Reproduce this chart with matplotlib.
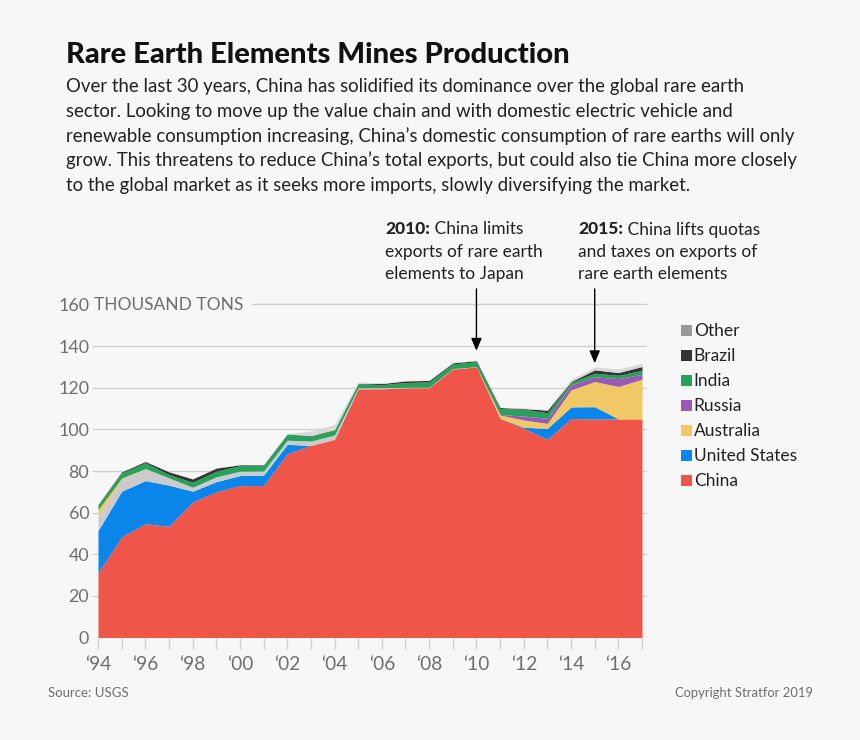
import matplotlib
matplotlib.use("Agg")
import matplotlib.pyplot as plt
from matplotlib.patches import Patch
from matplotlib.transforms import blended_transform_factory

years = list(range(1994, 2018))
# cumulative tops
china = [31,48.3,54.7,53.4,65.1,70,73,73,88.3,92.3,95.2,119.5,119.5,120,120,129,130,105.3,100.5,95.2,105.2,105,105,105]
us_top = [51.3,70.3,75.4,73.2,70.3,74.9,77.8,78,92.8,92.3,95.2,119.5,119.5,120,120,129,130,105.3,101,100.5,110.8,110.9,105,105]
gray_top = [58,76.2,81.2,76.7,72.2,77.2,79.9,80,94.8,94.4,97.3,120,120,120.2,120.2,129.2,130.1,105.4,101,100.5,110.8,110.9,105,105]
australia_top = [61.4,76.6,81.2,76.7,72.2,77.2,79.9,80,94.8,94.4,97.3,120,120,120.2,120.2,129.2,130.1,106.9,104.5,102.9,119,123,120.6,124.1]
russia_top = [61.4,76.6,81.2,76.7,72.2,77.2,79.9,80,94.8,94.4,97.3,120,120,120.2,120.2,129.2,130.1,107.2,106.4,105.3,121.4,125.2,124.4,126.5]
india_top = [63.8,79.1,84,78.3,74.6,79.9,82.6,82.7,97.6,96.8,99.7,122,121.5,122.5,122.8,131.5,132.5,110,109.7,108,122.6,127,126,128.4]
brazil_top = [63.9,79.6,84.6,79.6,76.2,81.4,83,83,97.8,97,99.9,122.2,122,123.3,123.5,132,133,110.5,110,109.2,123,128.6,127.3,130.2]
other_top = [64,79.8,84.8,79.8,76.4,81.6,83.1,83.2,98,99.2,102.4,122.8,122.4,123.6,123.7,132.2,133.1,110.7,110.3,109.6,124,130,129,131.8]

bands = [
    (None, china, "China", "#EF5548"),
    (china, us_top, "United States", "#0A85EA"),
    (us_top, gray_top, None, "#CBCBCB"),
    (gray_top, australia_top, "Australia", "#F0C866"),
    (australia_top, russia_top, "Russia", "#9B59B6"),
    (russia_top, india_top, "India", "#27A25B"),
    (india_top, brazil_top, "Brazil", "#333333"),
    (brazil_top, other_top, None, "#D8D8D8"),
]
legend_names = ["Other", "Brazil", "India", "Russia", "Australia", "United States", "China"]
legend_colors = ["#999999", "#333333", "#27A25B", "#9B59B6", "#F0C866", "#0A85EA", "#EF5548"]

yticks = [0, 20, 40, 60, 80, 100, 120, 140, 160]
ytick_labels = ["0", "20", "40", "60", "80", "100", "120", "140", "160"]
y_unit = "THOUSAND TONS"
xtick_labels = ["‘94","‘96","‘98","‘00","‘02","‘04","‘06","‘08","‘10","‘12","‘14","‘16"]

title = "Rare Earth Elements Mines Production"
body = [
    "Over the last 30 years, China has solidified its dominance over the global rare earth",
    "sector. Looking to move up the value chain and with domestic electric vehicle and",
    "renewable consumption increasing, China’s domestic consumption of rare earths will only",
    "grow. This threatens to reduce China’s total exports, but could also tie China more closely",
    "to the global market as it seeks more imports, slowly diversifying the market.",
]

W, H = 860, 740
BG = "#F7F7F7"
plt.rcParams["font.family"] = ["Lato", "DejaVu Sans"]
fig = plt.figure(figsize=(W/100, H/100), dpi=100, facecolor=BG)

def px(x, y):
    return x / W, 1 - y / H

x0_px, x1_px = 92, 647
ytop_px, ybot_px = 304.5, 637.5
ax = fig.add_axes([x0_px/W, 1-ybot_px/H, (x1_px-x0_px)/W, (ybot_px-ytop_px)/H], facecolor="none")
per_year = (642-98)/23
ax.set_xlim(1994-(98-x0_px)/per_year, 2017+(x1_px-642)/per_year)
ax.set_ylim(0, 160)

for low, high, name, col in bands:
    ax.fill_between(years, 0 if low is None else low, high, color=col, lw=0, zorder=3)

for s in ax.spines.values():
    s.set_visible(False)
ax.set_yticks(yticks)
ax.set_yticklabels(ytick_labels, fontsize=12.9, color="#6E6E6E")
ax.tick_params(axis="y", length=0, pad=2)

# gridlines: the top one starts after the unit label
ygrid = blended_transform_factory(ax.transAxes, ax.transData)
ax.hlines(yticks[:-1], 0, 1, transform=ygrid, color="#D0D0D0", lw=1, zorder=1)
ax.hlines(yticks[-1], (251-x0_px)/(x1_px-x0_px), 1, transform=ygrid, color="#D0D0D0", lw=1, zorder=1, clip_on=False)
fig.text(*px(94, 310), y_unit, fontsize=12.5, color="#6E6E6E", va="baseline")

ax.set_xticks(years[::2], minor=False)
ax.set_xticks(years, minor=True)
ax.set_xticklabels(xtick_labels, fontsize=13.8, color="#6E6E6E")
ax.tick_params(axis="x", which="both", length=8, width=1, color="#CFCFCF", pad=5)

arrow = dict(arrowstyle="-|>,head_length=0.75,head_width=0.32", color="black", lw=1, shrinkA=0, shrinkB=0)
ax.annotate("", xy=(2010, 137.8), xytext=(2010, 167.5), arrowprops=arrow, annotation_clip=False)
ax.annotate("", xy=(2015, 131.8), xytext=(2015, 167.5), arrowprops=arrow, annotation_clip=False)

fig.text(*px(66, 63), title, fontsize=21, fontweight="black", color="#111111", va="baseline")
for i, line in enumerate(body):
    fig.text(*px(66, 92 + i*24.8), line, fontsize=13.4, color="#222222", va="baseline")

for x, bold, rest in [
    (385, "2010:", [" China limits", "exports of rare earth", "elements to Japan"]),
    (578, "2015:", [" China lifts quotas", "and taxes on exports of", "rare earth elements"]),
]:
    t = fig.text(*px(x, 234.5), bold, fontsize=12.5, fontweight="black", color="#222222", va="baseline")
    fig.canvas.draw()
    w = t.get_window_extent().width
    fig.text(*px(x + w, 234.5), rest[0], fontsize=12.5, color="#222222", va="baseline")
    fig.text(*px(x, 256.7), rest[1], fontsize=12.5, color="#222222", va="baseline")
    fig.text(*px(x, 278.7), rest[2], fontsize=12.5, color="#222222", va="baseline")

handles = [Patch(facecolor=c, edgecolor="none", label=n) for n, c in zip(legend_names, legend_colors)]
leg = fig.legend(handles=handles, loc="upper left", bbox_to_anchor=px(681, 323.5), frameon=False,
                 fontsize=12.5, labelcolor="#222222", handlelength=0.63, handleheight=0.63,
                 handletextpad=0.1, labelspacing=0.517, borderpad=0, borderaxespad=0)

fig.text(*px(48, 697), "Source: USGS", fontsize=9.5, color="#6E6E6E", va="baseline")
fig.text(*px(813, 697), "Copyright Stratfor 2019", fontsize=9.4, color="#6E6E6E", va="baseline", ha="right")

fig.savefig("out.png", dpi=100, facecolor=BG)
